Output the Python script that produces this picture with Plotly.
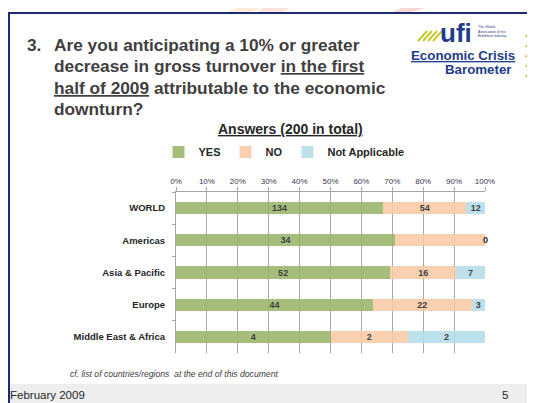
import plotly.graph_objects as go

# ---- data ----
regions = ["WORLD", "Americas", "Asia & Pacific", "Europe", "Middle East & Africa"]
yes_vals = [134, 34, 52, 44, 4]
no_vals = [54, 14, 16, 22, 2]
na_vals = [12, 0, 7, 3, 2]
series_names = ["YES", "NO", "Not Applicable"]
series_colors = ["#9BB56A", "#F9CBA7", "#B5DDE8"]

# page body has an 8px margin, so the figure starts at (8, 8) in the window
OX, OY = 8, 8
W, H = 535 - OX, 403 - OY
L, R, T, B = 176 - OX, 50, 192 - OY, 50
PW, PH = W - L - R, H - T - B


def px(x):
    return (x - OX - L) / PW


def py(y):
    return (H - B - (y - OY)) / PH


fig = go.Figure()
for name, vals, col in zip(series_names, [yes_vals, no_vals, na_vals], series_colors):
    fig.add_trace(go.Bar(
        y=regions, x=vals, name=name, orientation="h",
        marker=dict(color=col, line=dict(width=0)), opacity=0.88,
        text=[str(v) for v in vals], textposition="inside", insidetextanchor="middle",
        textangle=0, constraintext="none",
        textfont=dict(size=9, color="#262626", family="Liberation Sans", weight="bold"),
        cliponaxis=False, hoverinfo="skip",
    ))

annotations = []
# zero-valued last segments: label at the 100% end
for reg, v in zip(regions, na_vals):
    if v == 0:
        annotations.append(dict(x=100, y=reg, xref="x", yref="y", text="0", showarrow=False,
                                xanchor="center", font=dict(size=9, color="#262626",
                                family="Liberation Sans", weight="bold")))

title_font = dict(size=17.3, color="#404040", family="Liberation Sans", weight="bold")
annotations.append(dict(x=px(25), y=py(45), xref="paper", yref="paper", text="3.", showarrow=False,
                        xanchor="left", yanchor="middle", font=title_font))
title_lines = [
    "Are you anticipating a 10% or greater",
    "decrease in gross turnover <u>in the first</u>",
    "<u>half of 2009</u> attributable to the economic",
    "downturn?",
]
for i, line in enumerate(title_lines):
    annotations.append(dict(x=px(52), y=py(45 + i * 21.3), xref="paper", yref="paper", text=line,
                            showarrow=False, xanchor="left", yanchor="middle", font=title_font))

annotations.append(dict(x=px(290), y=py(129), xref="paper", yref="paper",
                        text="<u>Answers (200 in total)</u>", showarrow=False,
                        xanchor="center", yanchor="middle",
                        font=dict(size=14, color="#262626", family="Liberation Sans", weight="bold")))

annotations.append(dict(x=px(68), y=py(374), xref="paper", yref="paper",
                        text="<i>cf. list of countries/regions  at the end of this document</i>",
                        showarrow=False, xanchor="left", yanchor="middle",
                        font=dict(size=8.6, color="#404040", family="Liberation Sans")))
annotations.append(dict(x=px(8), y=py(395), xref="paper", yref="paper", text="February 2009",
                        showarrow=False, xanchor="left", yanchor="middle",
                        font=dict(size=11.5, color="#262626", family="Liberation Sans")))
annotations.append(dict(x=px(505), y=py(395), xref="paper", yref="paper", text="5",
                        showarrow=False, xanchor="center", yanchor="middle",
                        font=dict(size=11.5, color="#262626", family="Liberation Sans")))

# logo
annotations.append(dict(x=px(456), y=py(33), xref="paper", yref="paper", text="ufi",
                        showarrow=False, xanchor="center", yanchor="middle",
                        font=dict(size=26, color="#1F3D8C", family="Liberation Sans", weight="bold")))
annotations.append(dict(x=px(476), y=py(32), xref="paper", yref="paper",
                        text="The Global<br>Association of the<br>Exhibition Industry",
                        showarrow=False, xanchor="left", yanchor="middle", align="left",
                        font=dict(size=3.5, color="#1F3D8C", family="Liberation Sans")))
annotations.append(dict(x=px(463), y=py(55), xref="paper", yref="paper",
                        text="<u>Economic Crisis</u>", showarrow=False, xanchor="center", yanchor="middle",
                        font=dict(size=13.3, color="#1F3D8C", family="Liberation Sans", weight="bold")))
annotations.append(dict(x=px(478), y=py(69), xref="paper", yref="paper",
                        text="Barometer", showarrow=False, xanchor="center", yanchor="middle",
                        font=dict(size=13.3, color="#1F3D8C", family="Liberation Sans", weight="bold")))

shapes = []
# faint top decoration
for pts, col in [
    ([(236, 8), (262, 8), (250, 12), (228, 12)], "rgba(250,200,150,0.35)"),
    ([(262, 8), (290, 8), (282, 12), (258, 12)], "rgba(245,170,120,0.30)"),
    ([(402, 8), (425, 8), (412, 12), (392, 12)], "rgba(240,120,110,0.30)"),
]:
    d = "M " + " L ".join(f"{px(x)},{py(y)}" for x, y in pts) + " Z"
    shapes.append(dict(type="path", path=d, xref="paper", yref="paper",
                       fillcolor=col, line=dict(width=0), layer="below"))
# footer band
shapes.append(dict(type="rect", xref="paper", yref="paper", x0=px(8), x1=px(535), y0=py(384), y1=py(403),
                   fillcolor="#EEEEEE", line=dict(width=0), layer="below"))
# slide frame
shapes.append(dict(type="line", xref="paper", yref="paper", x0=px(9), x1=px(9), y0=py(12), y1=py(403),
                   line=dict(color="#1C2A78", width=2)))
shapes.append(dict(type="line", xref="paper", yref="paper", x0=px(8), x1=px(535), y0=py(13), y1=py(13),
                   line=dict(color="#1C2A78", width=2)))
# logo swooshes
for k in range(4):
    x0 = 418 + k * 5
    shapes.append(dict(type="line", xref="paper", yref="paper", x0=px(x0), y0=py(41), x1=px(x0 + 9),
                       y1=py(31), line=dict(color="#C8C832", width=2)))
for k in range(5):
    yc = 36 + k * 10
    d = f"M {px(535)},{py(yc - 5)} L {px(528)},{py(yc)} L {px(535)},{py(yc + 3)}"
    shapes.append(dict(type="path", path=d, xref="paper", yref="paper",
                       line=dict(color="#B8B820", width=3)))

fig.update_layout(
    width=W, height=H,
    margin=dict(l=L, r=R, t=T, b=B, pad=0),
    paper_bgcolor="white", plot_bgcolor="white",
    barmode="stack", barnorm="percent", bargap=0.62,
    font=dict(family="Liberation Sans", color="#333333"),
    showlegend=True,
    legend=dict(orientation="h", x=px(284), y=py(152), xanchor="center", yanchor="middle",
                font=dict(size=11, color="#262626", family="Liberation Sans", weight="bold"),
                itemwidth=30, tracegroupgap=0, bgcolor="rgba(0,0,0,0)", traceorder="normal"),
    xaxis=dict(side="top", range=[0, 100], dtick=10, ticksuffix="%", showgrid=True,
               gridcolor="#A6A6A6", gridwidth=1, showline=True, linecolor="#A6A6A6",
               ticks="outside", ticklen=4, tickcolor="#A6A6A6", zeroline=False,
               tickfont=dict(size=8, color="#3A3550"), fixedrange=True, layer="above traces"),
    yaxis=dict(autorange="reversed", showline=True, linecolor="#A6A6A6", ticks="outside",
               tickson="boundaries", ticklen=3, tickcolor="#A6A6A6", showgrid=False,
               tickfont=dict(size=9.5, color="#262626", family="Liberation Sans", weight="bold"),
               ticklabelstandoff=8, fixedrange=True),
    annotations=annotations, shapes=shapes,
)

fig.write_html("out.html")
